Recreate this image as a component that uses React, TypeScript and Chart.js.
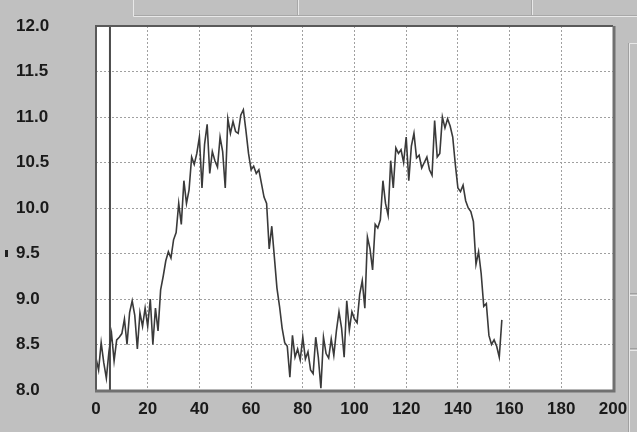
import React, { useEffect, useRef } from "react";
import { Chart, registerables } from "chart.js";

Chart.register(...registerables);

const xValues: number[] = Array.from({ length: 158 }, (_, i) => i);
const seriesValues: number[] = [
  8.35, 8.22, 8.52, 8.3, 8.13, 8.42, 8.62, 8.32, 8.55, 8.58,
  8.62, 8.78, 8.5, 8.85, 8.98, 8.82, 8.45, 8.85, 8.7, 8.9,
  8.7, 9.0, 8.5, 8.9, 8.65, 9.1, 9.25, 9.42, 9.52, 9.45,
  9.65, 9.73, 10.05, 9.82, 10.3, 10.05, 10.2, 10.56, 10.48, 10.6,
  10.78, 10.22, 10.7, 10.92, 10.38, 10.62, 10.52, 10.45, 10.78, 10.62,
  10.22, 10.98, 10.82, 10.95, 10.84, 10.82, 11.02, 11.08, 10.85, 10.6,
  10.42, 10.46, 10.38, 10.42, 10.27, 10.12, 10.05, 9.55, 9.8, 9.46,
  9.12, 8.92, 8.68, 8.52, 8.48, 8.14, 8.6, 8.36, 8.45, 8.33,
  8.58, 8.34, 8.42, 8.22, 8.18, 8.58, 8.36, 8.02, 8.58, 8.4,
  8.35, 8.56, 8.38, 8.65, 8.86, 8.68, 8.36, 8.98, 8.66, 8.86,
  8.78, 8.74, 9.05, 9.2, 8.9, 9.68, 9.55, 9.32, 9.82, 9.78,
  9.87, 10.3, 10.05, 9.92, 10.52, 10.22, 10.66, 10.6, 10.64, 10.5,
  10.78, 10.3, 10.68, 10.82, 10.55, 10.58, 10.44, 10.5, 10.56, 10.42,
  10.36, 10.96, 10.56, 10.6, 11.0, 10.88, 10.98, 10.9, 10.78, 10.48,
  10.22, 10.18, 10.25, 10.08, 10.0, 9.96, 9.85, 9.38, 9.52, 9.28,
  8.92, 8.95, 8.6, 8.5, 8.55, 8.48, 8.36, 8.77,
];
const cursorX = 5.4;
const xRange = [0, 200];
const xStep = 20;
const yRange = [8, 12];
const yStep = 0.5;

const FONT = "'Liberation Sans', Arial, sans-serif";

const framePlugin = {
  id: "frame",
  beforeDraw(chart: any) {
    const { ctx, chartArea: a, width, height } = chart;
    ctx.save();
    ctx.fillStyle = "#c0c0c0";
    ctx.fillRect(0, 0, width, height);
    ctx.strokeStyle = "#e8e8e8";
    ctx.lineWidth = 1;
    ctx.beginPath();
    ctx.moveTo(133.5, 0);
    ctx.lineTo(133.5, 16.5);
    ctx.lineTo(637, 16.5);
    ctx.moveTo(298.5, 0);
    ctx.lineTo(298.5, 16);
    ctx.moveTo(532.5, 0);
    ctx.lineTo(532.5, 16);
    ctx.stroke();
    ctx.strokeStyle = "#a8a8a8";
    ctx.beginPath();
    ctx.moveTo(134, 15.5);
    ctx.lineTo(637, 15.5);
    ctx.moveTo(297.5, 0);
    ctx.lineTo(297.5, 15);
    ctx.moveTo(531.5, 0);
    ctx.lineTo(531.5, 15);
    ctx.stroke();
    ctx.strokeStyle = "#e8e8e8";
    ctx.beginPath();
    ctx.moveTo(629.5, 432);
    ctx.lineTo(629.5, 43.5);
    ctx.lineTo(637, 43.5);
    ctx.moveTo(629.5, 295.5);
    ctx.lineTo(637, 295.5);
    ctx.moveTo(629.5, 350.5);
    ctx.lineTo(637, 350.5);
    ctx.stroke();
    ctx.strokeStyle = "#a0a0a0";
    ctx.beginPath();
    ctx.moveTo(628.5, 432);
    ctx.lineTo(628.5, 43);
    ctx.moveTo(630, 293.5);
    ctx.lineTo(637, 293.5);
    ctx.moveTo(630, 348.5);
    ctx.lineTo(637, 348.5);
    ctx.stroke();
    ctx.fillStyle = "#202020";
    ctx.fillRect(5, 250, 3, 7);
    ctx.fillStyle = "#ffffff";
    ctx.fillRect(a.left, a.top, a.right - a.left, a.bottom - a.top);
    ctx.restore();
  },
  afterDraw(chart: any) {
    const { ctx, chartArea: a } = chart;
    ctx.save();
    ctx.strokeStyle = "#5a5a5a";
    ctx.lineWidth = 2;
    ctx.beginPath();
    ctx.moveTo(a.left, a.bottom);
    ctx.lineTo(a.left, a.top);
    ctx.lineTo(a.right, a.top);
    ctx.stroke();
    ctx.strokeStyle = "#707070";
    ctx.lineWidth = 3;
    ctx.beginPath();
    ctx.moveTo(a.right + 1, a.top);
    ctx.lineTo(a.right + 1, a.bottom + 1);
    ctx.lineTo(a.left - 1, a.bottom + 1);
    ctx.stroke();
    ctx.restore();
  },
};

export default function App() {
  const ref = useRef<HTMLCanvasElement | null>(null);

  useEffect(() => {
    document.body.style.margin = "0";
    document.body.style.background = "#c0c0c0";
    const canvas = ref.current;
    if (!canvas) return;
    const points = xValues.map((x, i) => ({ x, y: seriesValues[i] }));
    const cursor = [
      { x: cursorX, y: yRange[0] },
      { x: cursorX, y: yRange[1] },
    ];
    const edgeColor = (min: number, max: number) => (c: any) => {
      const v = c.tick ? c.tick.value : 0;
      return Math.abs(v - min) < 1e-6 || Math.abs(v - max) < 1e-6 ? "rgba(0,0,0,0)" : "#a0a0a0";
    };
    const chart = new Chart(canvas, {
      type: "line",
      data: {
        datasets: [
          {
            data: points,
            borderColor: "#3a3a3a",
            borderWidth: 1.6,
            pointRadius: 0,
            tension: 0,
          },
          {
            data: cursor,
            borderColor: "#4a4a4a",
            borderWidth: 2,
            pointRadius: 0,
          },
        ],
      },
      options: {
        animation: false,
        responsive: false,
        events: [],
        layout: { padding: { left: 16, top: 26, right: 24, bottom: 12 } },
        plugins: { legend: { display: false }, tooltip: { enabled: false } },
        scales: {
          x: {
            type: "linear",
            min: xRange[0],
            max: xRange[1],
            afterFit: (s: any) => {
              s.height = 30;
            },
            ticks: {
              stepSize: xStep,
              padding: 9,
              color: "#1a1a1a",
              font: { family: FONT, size: 17, weight: "bold" },
              maxRotation: 0,
              autoSkip: false,
            },
            grid: { color: edgeColor(xRange[0], xRange[1]), drawTicks: false, lineWidth: 1 },
            border: { display: false, dash: [2, 2] },
          },
          y: {
            type: "linear",
            min: yRange[0],
            max: yRange[1],
            afterFit: (s: any) => {
              s.width = 80;
            },
            ticks: {
              stepSize: yStep,
              crossAlign: "far",
              padding: 0,
              color: "#1a1a1a",
              font: { family: FONT, size: 17, weight: "bold" },
              callback: (v: any) => Number(v).toFixed(1),
            },
            grid: { color: edgeColor(yRange[0], yRange[1]), drawTicks: false, lineWidth: 1 },
            border: { display: false, dash: [2, 2] },
          },
        },
      },
      plugins: [framePlugin],
    });
    return () => chart.destroy();
  }, []);

  return (
    <div style={{ position: "fixed", left: 0, top: 0, width: 637, height: 432, background: "#c0c0c0" }}>
      <canvas ref={ref} width={637} height={432} style={{ display: "block", width: 637, height: 432 }} />
    </div>
  );
}
